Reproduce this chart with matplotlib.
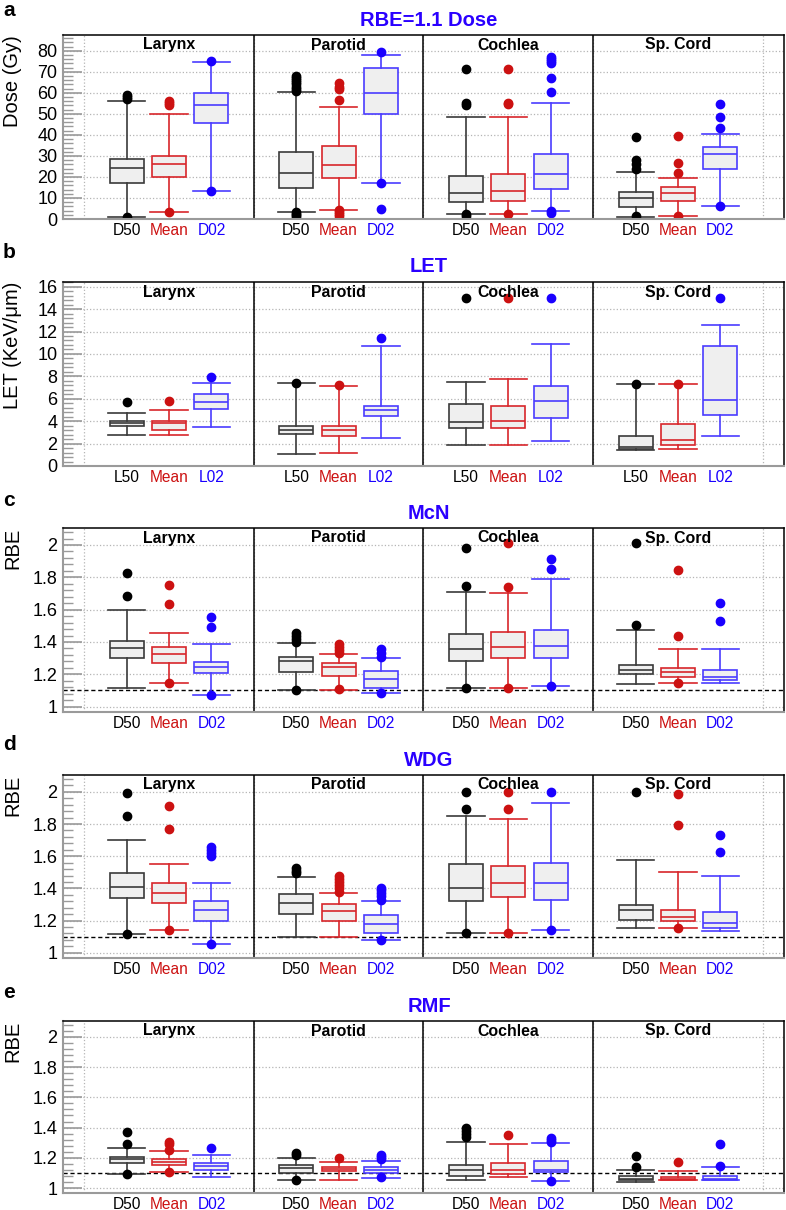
import numpy as np
import matplotlib.pyplot as plt
from matplotlib.ticker import MultipleLocator, FormatStrFormatter

plt.rcParams['font.family'] = ['Liberation Sans', 'DejaVu Sans']

organs = ['Larynx', 'Parotid', 'Cochlea', 'Sp. Cord']
dose_metrics = ['D50', 'Mean', 'D02']
let_metrics = ['L50', 'Mean', 'L02']

# each row: [whislo, q1, median, q3, whishi]; order per organ: 50%, mean, 02
dose_stats = [
    [1.1, 17.1, 24.1, 28.4, 56.3], [3.3, 20.1, 26.1, 30.0, 50.1], [13.5, 45.6, 54.0, 59.9, 74.8],
    [3.3, 14.6, 21.7, 32.0, 60.4], [4.3, 19.3, 25.7, 34.9, 53.4], [17.0, 50.0, 60.0, 72.0, 78.0],
    [2.2, 8.2, 12.5, 20.6, 48.7], [2.2, 8.7, 13.2, 21.2, 48.7], [3.8, 14.1, 21.2, 31.0, 55.0],
    [1.1, 5.9, 10.1, 13.0, 22.2], [1.6, 8.7, 12.2, 15.4, 19.3], [6.3, 23.9, 30.7, 34.4, 40.3],
]
dose_fliers = [
    [57, 58, 59, 0.9], [54, 55, 56, 3.2], [75.1, 13.5],
    [61, 62, 63, 64, 65, 66, 67, 68, 1.0, 1.8, 2.6, 3.3], [56.6, 62, 63, 64.5, 1.2, 2.2, 3.3, 4.5], [79.6, 17.0, 4.8],
    [71.2, 54, 55, 2.2, 1.5], [71.2, 55, 54.5, 2.2], [74, 75, 76, 77, 67.2, 60.2, 3.8, 3.0],
    [39.1, 24, 26, 28, 1.4], [39.5, 26.5, 21.7, 1.6], [54.7, 48.7, 43.4, 6.2],
]

let_stats = [
    [2.78, 3.59, 3.83, 4.04, 4.75], [2.78, 3.2, 3.8, 4.04, 5.02], [3.5, 5.08, 5.68, 6.4, 7.42],
    [1.05, 2.84, 3.23, 3.59, 7.42], [1.2, 2.69, 3.2, 3.59, 7.12], [2.48, 4.46, 4.99, 5.35, 10.74],
    [1.85, 3.41, 3.89, 5.56, 7.54], [1.85, 3.41, 4.04, 5.38, 7.78], [2.24, 4.25, 5.77, 7.12, 10.9],
    [1.4, 1.5, 1.7, 2.69, 7.33], [1.55, 1.85, 2.33, 3.74, 7.33], [2.69, 4.55, 5.89, 10.7, 12.56],
]
let_fliers = [
    [5.7], [5.77], [7.92],
    [7.42], [7.24], [11.45],
    [15.0], [15.0], [15.0],
    [7.33], [7.33], [15.0],
]

mcn_stats = [
    [1.115, 1.303, 1.365, 1.408, 1.600], [1.148, 1.268, 1.326, 1.371, 1.458], [1.074, 1.206, 1.243, 1.278, 1.39],
    [1.103, 1.212, 1.285, 1.309, 1.396], [1.103, 1.19, 1.243, 1.268, 1.324], [1.082, 1.118, 1.169, 1.223, 1.303],
    [1.118, 1.28, 1.355, 1.452, 1.707], [1.118, 1.301, 1.367, 1.46, 1.701], [1.126, 1.301, 1.375, 1.474, 1.788],
    [1.14, 1.202, 1.227, 1.26, 1.474], [1.148, 1.186, 1.212, 1.241, 1.355], [1.148, 1.165, 1.186, 1.227, 1.355],
]
mcn_fliers = [
    [1.829, 1.687], [1.75, 1.635, 1.148], [1.553, 1.495, 1.074],
    [1.40, 1.42, 1.44, 1.458, 1.103], [1.33, 1.35, 1.37, 1.39, 1.107], [1.31, 1.33, 1.357, 1.082],
    [1.979, 1.746, 1.118], [2.01, 1.742, 1.118], [1.913, 1.849, 1.126],
    [2.014, 1.503], [1.845, 1.437, 1.148], [1.639, 1.53],
]

wdg_stats = [
    [1.114, 1.343, 1.407, 1.493, 1.70], [1.141, 1.306, 1.372, 1.435, 1.551], [1.056, 1.2, 1.264, 1.32, 1.435],
    [1.1, 1.243, 1.308, 1.364, 1.472], [1.1, 1.2, 1.258, 1.3, 1.372], [1.079, 1.121, 1.179, 1.235, 1.322],
    [1.121, 1.32, 1.405, 1.551, 1.848], [1.121, 1.349, 1.435, 1.536, 1.832], [1.141, 1.326, 1.435, 1.557, 1.929],
    [1.154, 1.204, 1.264, 1.299, 1.578], [1.156, 1.2, 1.222, 1.264, 1.499], [1.137, 1.154, 1.183, 1.256, 1.48],
]
wdg_fliers = [
    [1.994, 1.852, 1.114], [1.911, 1.769, 1.141], [1.60, 1.62, 1.64, 1.66, 1.056],
    [1.495, 1.51, 1.526], [1.38, 1.40, 1.42, 1.44, 1.46, 1.474], [1.33, 1.35, 1.37, 1.39, 1.40, 1.079],
    [2.0, 1.894, 1.121], [2.0, 1.894, 1.121], [2.0, 1.141],
    [2.0], [1.985, 1.794, 1.156], [1.73, 1.624],
]

rmf_stats = [
    [1.092, 1.164, 1.19, 1.208, 1.265], [1.103, 1.151, 1.171, 1.195, 1.243], [1.072, 1.12, 1.147, 1.168, 1.221],
    [1.05, 1.098, 1.131, 1.151, 1.197], [1.055, 1.112, 1.127, 1.142, 1.175], [1.066, 1.098, 1.12, 1.142, 1.179],
    [1.055, 1.077, 1.12, 1.153, 1.302], [1.07, 1.094, 1.12, 1.168, 1.289], [1.048, 1.103, 1.12, 1.177, 1.295],
    [1.037, 1.05, 1.059, 1.077, 1.12], [1.055, 1.055, 1.059, 1.072, 1.114], [1.055, 1.055, 1.059, 1.077, 1.136],
]
rmf_fliers = [
    [1.372, 1.289, 1.092], [1.306, 1.29, 1.252, 1.103], [1.265],
    [1.22, 1.234, 1.05], [1.197], [1.19, 1.205, 1.22, 1.072],
    [1.34, 1.36, 1.38, 1.394], [1.35], [1.306, 1.32, 1.333, 1.048],
    [1.214, 1.136], [1.173], [1.289, 1.147],
]

line_colors = ['#3a3a3a', '#d8262b', '#4a3cff']
dot_colors = ['#000000', '#cc1111', '#1a00ff']
title_color = '#2a00ff'
grey = '#9a9a9a'

W, H = 786, 1210
# (top px, bottom px) of each panel
panel_px = [(35, 219), (282, 466), (528, 712), (775, 958), (1021, 1193)]
letter_y = [10, 252, 501, 745, 993]
title_y = [21, 267, 513, 760, 1006]


def draw_panel(fig, idx, stats, fliers, metrics, ylim, major, minor, title, ylabel, ref=None):
    top, bot = panel_px[idx]
    ax = fig.add_axes([63 / W, 1 - bot / H, 721 / W, (bot - top) / H])
    positions = [4 * o + m + 1 for o in range(len(organs)) for m in range(3)]

    for m in range(3):
        sel = [k for k in range(len(stats)) if k % 3 == m]
        bx = []
        for k in sel:
            s = stats[k]
            bx.append(dict(whislo=s[0], q1=s[1], med=s[2], q3=s[3], whishi=s[4], fliers=fliers[k]))
        lc = line_colors[m]
        ax.bxp(bx, positions=[positions[k] for k in sel], widths=0.8, capwidths=0.88,
               patch_artist=True, manage_ticks=False,
               boxprops=dict(facecolor='#efefef', edgecolor=lc, linewidth=1.2),
               whiskerprops=dict(color=lc, linewidth=1.2),
               capprops=dict(color=lc, linewidth=1.2),
               medianprops=dict(color=lc, linewidth=1.2),
               flierprops=dict(marker='o', markersize=6, markerfacecolor=dot_colors[m],
                               markeredgecolor=dot_colors[m], linestyle='none'))

    ax.set_xlim(-0.5, 16.5)
    ax.set_ylim(*ylim)
    ax.set_xticks(positions)
    ax.set_xticklabels(metrics * len(organs), fontsize=11.2)
    for k, lab in enumerate(ax.get_xticklabels()):
        lab.set_color(dot_colors[k % 3])
    ax.set_xticks(np.arange(0, 17), minor=True)
    ax.tick_params(axis='x', which='both', length=0, pad=3)
    ax.grid(True, which='minor', axis='x', linestyle=':', color='#b5b5b5', linewidth=0.9)

    ax.yaxis.set_major_locator(MultipleLocator(major))
    ax.yaxis.set_minor_locator(MultipleLocator(minor))
    ax.yaxis.set_major_formatter(FormatStrFormatter('%g'))
    ax.tick_params(axis='y', which='major', direction='in', length=14, width=1.2, color=grey,
                   labelsize=13, pad=4)
    ax.tick_params(axis='y', which='minor', direction='in', length=7, width=1.0, color=grey)
    ax.grid(True, which='major', axis='y', linestyle=':', color='#b5b5b5', linewidth=0.9)
    ax.set_axisbelow(True)

    for sep in (4, 8, 12):
        ax.axvline(sep, color='black', linewidth=1.1, zorder=1.5)
    if ref is not None:
        ax.axhline(ref, color='black', linestyle='--', linewidth=1.0, dashes=(3, 2), zorder=1.6)

    for o, name in enumerate(organs):
        ax.text(4 * o + 2, ylim[1] - (ylim[1] - ylim[0]) * 10 / (bot - top), name,
                ha='center', va='center', fontsize=11.4, fontweight='bold', zorder=5)

    ax.spines['left'].set_color(grey)
    ax.spines['bottom'].set_color(grey)
    ax.spines['left'].set_linewidth(1.5)
    ax.spines['bottom'].set_linewidth(1.5)
    ax.spines['top'].set_linewidth(1.1)
    ax.spines['right'].set_linewidth(1.1)

    ax.set_ylabel(ylabel, fontsize=14.5, ha='right')
    ax.yaxis.set_label_coords(-0.057, 1.0)

    fig.text(429 / W, 1 - title_y[idx] / H, title, color=title_color, fontsize=14.5,
             fontweight='bold', ha='center', va='center')
    fig.text(3 / W, 1 - letter_y[idx] / H, 'abcde'[idx], fontsize=15, fontweight='bold',
             ha='left', va='center')
    return ax


fig = plt.figure(figsize=(W / 100, H / 100), dpi=100)
rbe_lim = (0.967, 2.105)
draw_panel(fig, 0, dose_stats, dose_fliers, dose_metrics, (0, 87.5), 10, 2, 'RBE=1.1 Dose', 'Dose (Gy)')
draw_panel(fig, 1, let_stats, let_fliers, let_metrics, (0, 16.42), 2, 0.4, 'LET', 'LET (KeV/\u03bcm)')
draw_panel(fig, 2, mcn_stats, mcn_fliers, dose_metrics, rbe_lim, 0.2, 0.04, 'McN', 'RBE', ref=1.1)
draw_panel(fig, 3, wdg_stats, wdg_fliers, dose_metrics, rbe_lim, 0.2, 0.04, 'WDG', 'RBE', ref=1.1)
draw_panel(fig, 4, rmf_stats, rmf_fliers, dose_metrics, rbe_lim, 0.2, 0.04, 'RMF', 'RBE', ref=1.1)

fig.savefig('out.png', dpi=100)
